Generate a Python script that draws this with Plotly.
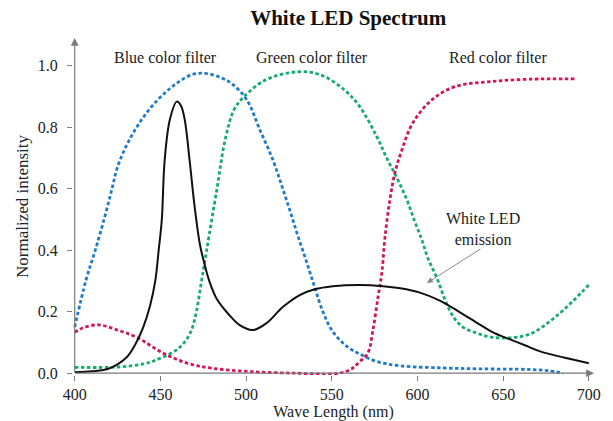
import plotly.graph_objects as go

# ---- data ----
emission_x = [400, 410, 420, 430, 435, 440, 444, 447, 449, 450.8, 452.5, 455.5, 459.5, 462, 464.2, 467, 470,
              473, 475.5, 478.5, 483, 490, 496.3, 503.9, 512, 521.4, 531.3, 540, 550.6, 566.4, 580, 590, 601.4,
              613, 624.8, 636.4, 645, 654, 663, 672, 686, 700]
emission_y = [0.003, 0.006, 0.015, 0.05, 0.09, 0.15, 0.22, 0.3, 0.4, 0.498, 0.694, 0.824, 0.883, 0.87, 0.824,
              0.694, 0.54, 0.42, 0.36, 0.3, 0.24, 0.19, 0.156, 0.14, 0.163, 0.215, 0.254, 0.273, 0.283, 0.287,
              0.283, 0.276, 0.262, 0.236, 0.198, 0.158, 0.13, 0.11, 0.09, 0.07, 0.05, 0.032]

blue_x = [400, 406.6, 412, 417.5, 421.6, 425, 431, 439, 448.5, 458.4, 468.3, 476, 485, 492, 500.4, 508, 515.6,
          520.8, 525.5, 530, 535.4, 540, 544.8, 550.6, 558.8, 566.4, 576.3, 589.7, 614.8, 636.4, 665, 676, 685]
blue_y = [0.15, 0.303, 0.4, 0.508, 0.596, 0.671, 0.749, 0.824, 0.889, 0.938, 0.971, 0.975, 0.962, 0.94, 0.889,
          0.792, 0.694, 0.61, 0.53, 0.45, 0.36, 0.28, 0.2, 0.135, 0.087, 0.062, 0.038, 0.024, 0.017,
          0.014, 0.012, 0.008, 0.0]

green_x = [400, 425, 440, 447.5, 459, 464, 468, 471, 474, 477, 483, 487.7, 493, 499, 511.5, 530, 543.5, 557.6,
           566.4, 576.3, 582, 588, 593.8, 598.5, 602.6, 606, 611.3, 616, 620.7, 626.5, 634.7, 643, 654, 666,
           682, 700]
green_y = [0.019, 0.02, 0.03, 0.043, 0.074, 0.1, 0.138, 0.2, 0.3, 0.4, 0.6, 0.757, 0.857, 0.9, 0.954, 0.98,
           0.97, 0.92, 0.866, 0.769, 0.7, 0.635, 0.564, 0.492, 0.433, 0.375, 0.31, 0.24, 0.185, 0.15, 0.13,
           0.117, 0.115, 0.128, 0.19, 0.287]

red_x = [400, 405, 414, 425, 436, 452, 466, 480, 503, 528, 551, 558, 562, 566, 571, 574, 577, 579.2, 581,
         583.9, 586.8, 590.9, 597.3, 608.4, 622, 642.6, 665.5, 692]
red_y = [0.133, 0.148, 0.157, 0.14, 0.117, 0.064, 0.032, 0.016, 0.005, 0.0, -0.002, 0.005, 0.016, 0.036,
         0.065, 0.14, 0.248, 0.326, 0.44, 0.564, 0.651, 0.726, 0.814, 0.889, 0.932, 0.948, 0.956, 0.957]

x_ticks = [400, 450, 500, 550, 600, 650, 700]
y_ticks = [0.0, 0.2, 0.4, 0.6, 0.8, 1.0]
y_tick_labels = ["0.0", "0.2", "0.4", "0.6", "0.8", "1.0"]

FONT = "Liberation Serif, Times New Roman, serif"
BLUE = "#1f7ac9"
GREEN = "#17ab6f"
RED = "#d3145a"
DASH = "3.5px,2.5px"

fig = go.Figure()
fig.add_trace(go.Scatter(x=blue_x, y=blue_y, mode="lines", line=dict(color=BLUE, width=2.8, dash=DASH, shape="spline"),
                         name="Blue color filter"))
fig.add_trace(go.Scatter(x=green_x, y=green_y, mode="lines", line=dict(color=GREEN, width=2.8, dash=DASH, shape="spline"),
                         name="Green color filter"))
fig.add_trace(go.Scatter(x=red_x, y=red_y, mode="lines", line=dict(color=RED, width=2.8, dash=DASH, shape="spline"),
                         name="Red color filter"))
fig.add_trace(go.Scatter(x=emission_x, y=emission_y, mode="lines", line=dict(color="#111111", width=2, shape="spline"),
                         name="White LED emission"))

axis_col = "#7a7a7a"
annotations = [
    # axis arrows
    dict(x=400, y=1.09, ax=400, ay=0, xref="x", yref="y", axref="x", ayref="y", text="", showarrow=True,
         arrowhead=2, arrowsize=1.3, arrowwidth=1.2, arrowcolor=axis_col),
    dict(x=703, y=0, ax=400, ay=0, xref="x", yref="y", axref="x", ayref="y", text="", showarrow=True,
         arrowhead=2, arrowsize=1.3, arrowwidth=1.2, arrowcolor=axis_col),
    # labels
    dict(x=452.7, y=1.026, xref="x", yref="y", text="Blue color filter", showarrow=False,
         font=dict(family=FONT, size=16, color="#222")),
    dict(x=538.4, y=1.026, xref="x", yref="y", text="Green color filter", showarrow=False,
         font=dict(family=FONT, size=16, color="#222")),
    dict(x=647, y=1.026, xref="x", yref="y", text="Red color filter", showarrow=False,
         font=dict(family=FONT, size=16, color="#222")),
    dict(x=638.2, y=0.469, xref="x", yref="y", text="White LED<br>emission", showarrow=False,
         font=dict(family=FONT, size=16, color="#222")),
    dict(x=605.5, y=0.293, ax=637.6, ay=0.407, xref="x", yref="y", axref="x", ayref="y", text="",
         showarrow=True, arrowhead=2, arrowsize=1.2, arrowwidth=1, arrowcolor="#8a8a8a"),
]

fig.update_layout(
    width=613, height=421,
    margin=dict(l=73, r=19, t=38, b=46, autoexpand=False),
    paper_bgcolor="white", plot_bgcolor="white",
    showlegend=False,
    font=dict(family=FONT, size=16, color="#222"),
    title=dict(text="<b>White LED Spectrum</b>", x=0.568, xanchor="center", y=0.957, yanchor="middle",
               font=dict(family=FONT, size=21, color="#111")),
    annotations=annotations,
    xaxis=dict(range=[399, 703], tickvals=x_ticks, ticktext=[str(v) for v in x_ticks], showgrid=False,
               zeroline=False, showline=False, ticks="outside", ticklen=5, tickcolor=axis_col,
               automargin=False, ticklabelstandoff=0,
               tickfont=dict(family=FONT, size=16, color="#222"),
               title=dict(text="Wave Length (nm)", standoff=4, font=dict(family=FONT, size=16, color="#222"))),
    yaxis=dict(range=[-0.006, 1.09], tickvals=y_ticks, ticktext=y_tick_labels, showgrid=False,
               zeroline=False, showline=False, ticks="outside", ticklen=5, tickcolor=axis_col,
               automargin=False, ticklabelstandoff=6,
               tickfont=dict(family=FONT, size=16, color="#222"),
               title=dict(text="Normalized intensity", standoff=4, font=dict(family=FONT, size=17, color="#222"))),
)

fig.write_html("out.html", config={"displayModeBar": False},
               post_script="document.body.style.margin='0';document.body.style.overflow='hidden';")
